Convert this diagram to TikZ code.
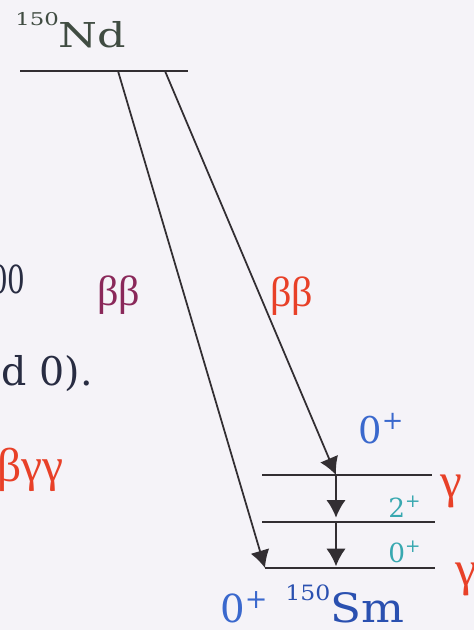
\documentclass[tikz,border=0pt]{standalone}
\usepackage{fontspec}
\usepackage{xcolor}
\usepackage{graphicx}
\usetikzlibrary{positioning,arrows.meta}
\setmainfont{DejaVu Serif}
\newfontfamily\greekfont{Liberation Serif}
\definecolor{paper}{RGB}{245,243,248}
\definecolor{ink}{RGB}{50,46,50}
\definecolor{fragink}{RGB}{40,44,66}
\definecolor{ndgray}{RGB}{64,76,66}
\definecolor{bbpurple}{RGB}{138,40,90}
\definecolor{gred}{RGB}{232,64,40}
\definecolor{spinblue}{RGB}{58,104,205}
\definecolor{spinteal}{RGB}{56,168,176}
\definecolor{smblue}{RGB}{42,80,176}

\begin{document}
\begin{tikzpicture}[x=0.02cm, y=-0.02cm, >={Latex[length=10pt,width=11pt]},
  level/.style={draw=ink, line width=1.1pt},
  decay/.style={->, draw=ink, line width=1pt},
  txt/.style={inner sep=0pt, anchor=base west},
  frag/.style={inner sep=0pt, anchor=base east}]
\useasboundingbox (0,0) rectangle (474,630);
\fill[paper] (0,0) rectangle (474,630);
\clip (0,0) rectangle (474,630);

\node[frag, text=fragink, font=\fontsize{22}{26}\selectfont] (frag1) at (26,293) {\scalebox{0.72}[1]{00}};
\node[frag, text=fragink, font=\fontsize{22.5}{28}\selectfont] (frag2) at (93,385) {d 0).};
\node[frag, text=gred, font=\greekfont\fontsize{27}{30}\selectfont] (frag3) at (64,481) {βγγ};

\coordinate (nd-l) at (20,71);
\coordinate (nd-r) at (188,71);
\coordinate (nd-a) at (118,71);
\coordinate (nd-b) at (165,71);
\coordinate (ex0-l) at (262,475);
\coordinate (ex0-r) at (432,475);
\coordinate (ex0-t) at (336,475);
\coordinate (ex2-l) at (262,522);
\coordinate (ex2-r) at (435,522);
\coordinate (ex2-t) at (336,522);
\coordinate (gs-l) at (265,568);
\coordinate (gs-r) at (435,568);
\coordinate (gs-t) at (336,568);

\draw[level] (nd-l) -- (nd-r);
\draw[level] (ex0-l) -- (ex0-r);
\draw[level] (ex2-l) -- (ex2-r);
\draw[level] (gs-l) -- (gs-r);

\draw[decay] (nd-a) -- (gs-l);
\draw[decay] (nd-b) -- (ex0-t);
\draw[decay, shorten >=2.5pt] (ex0-t) -- (ex2-t);
\draw[decay, shorten >=1pt] (ex2-t) -- (gs-t);

\node[txt, text=ndgray, font=\fontsize{19.5}{24}\selectfont] (nd) at (15,47)
  {\scalebox{1.3}[1]{{\fontsize{10}{12}\selectfont\raisebox{12pt}{150}}Nd}};
\node[txt, text=bbpurple, font=\greekfont\fontsize{24}{28}\selectfont] (bb0) at (97,305) {ββ};
\node[txt, text=gred, font=\greekfont\fontsize{24}{28}\selectfont] (bb1) at (270,306) {ββ};
\node[txt, text=spinblue, font=\fontsize{21}{24}\selectfont] (sp-ex0) at (358,443) {0\textsuperscript{+}};
\node[txt, text=spinteal, font=\fontsize{15}{18}\selectfont] (sp-ex2) at (388,517) {2\textsuperscript{+}};
\node[txt, text=spinteal, font=\fontsize{15}{18}\selectfont] (sp-gs1) at (388,562) {0\textsuperscript{+}};
\node[txt, text=gred, font=\greekfont\fontsize{28}{30}\selectfont] (g1) at (440,497) {γ};
\node[txt, text=gred, font=\greekfont\fontsize{28}{30}\selectfont] (g2) at (455,585) {γ};
\node[txt, text=spinblue, font=\fontsize{22}{26}\selectfont] (sp-gs) at (220,622) {0\textsuperscript{+}};
\node[txt, text=smblue, font=\fontsize{23}{28}\selectfont] (sm) at (285,622)
  {\scalebox{1.12}[1]{{\fontsize{12}{14}\selectfont\raisebox{12pt}{150}}Sm}};
\end{tikzpicture}
\end{document}
